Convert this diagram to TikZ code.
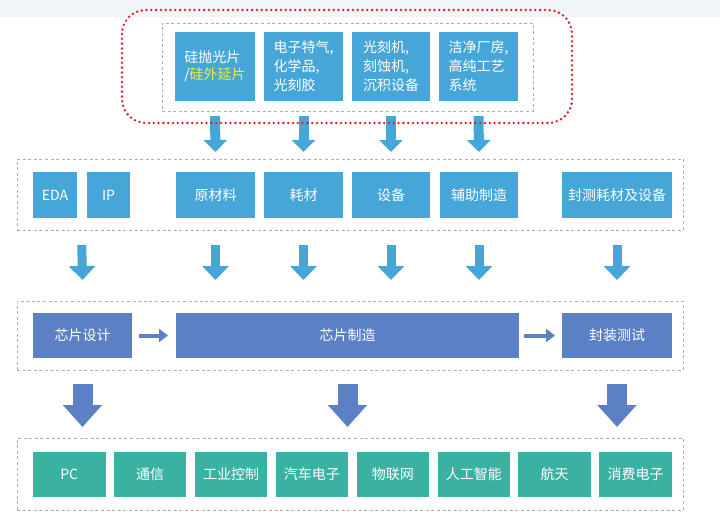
\documentclass[tikz,border=0pt]{standalone}
\usepackage{fontspec}
\setmainfont{Noto Sans CJK SC}
\usetikzlibrary{arrows.meta,fit,calc}
\definecolor{lb}{HTML}{46A6D7}
\definecolor{mb}{HTML}{5B80C3}
\definecolor{tl}{HTML}{3AB2A2}
\definecolor{ylw}{HTML}{F2EE3C}
\definecolor{redd}{HTML}{DE2A2E}
\definecolor{frm}{HTML}{A9B0B7}
\definecolor{frmb}{HTML}{96B6C6}
\definecolor{band}{HTML}{F1F4F8}
\newcommand\mybox[7]{\node[#1, minimum width={(#5-#3)*1pt}, minimum height={(#6-#4)*1pt}] (#2) at ({(#3+#5)/2},{(#4+#6)/2}) {#7};}
\begin{document}
\begin{tikzpicture}[x=1pt,y=-1pt,
  box/.style={inner sep=0pt, outer sep=0pt, text=white, font=\fontsize{14pt}{19pt}\selectfont},
  lbox/.style={box, fill=lb},
  mbox/.style={box, fill=mb},
  tbox/.style={box, fill=tl},
  frame/.style={draw=frm, line width=0.9pt, dash pattern=on 3pt off 2.6pt, inner sep=0pt},
  redframe/.style={draw=redd, line width=2.8pt, line cap=round, dash pattern=on 0pt off 4.8pt, rounded corners=24pt},
  larrow/.style={draw=lb, line width=10pt, -{Triangle[width=23pt,length=12pt]}},
  marrow/.style={draw=lb, line width=9pt, -{Triangle[width=26pt,length=14pt]}},
  barrow/.style={draw=mb, line width=20pt, -{Triangle[width=38pt,length=22pt]}},
  sarrow/.style={draw=mb, line width=4pt, -{Triangle[width=13pt,length=9pt]}}
]
\useasboundingbox (0,0) rectangle (720,523);
\fill[band] (0,0) rectangle (720,17);

% frames
\node[frame, draw=frmb, fit={(162,23)(533,111)}] (f1) {};
\node[frame, fit={(17,159)(683,230)}] (f2) {};
\node[frame, fit={(17,301)(683,370)}] (f3) {};
\node[frame, fit={(17,438)(683,510)}] (f4) {};

% top row
\mybox{lbox, align=left, font=\fontsize{14pt}{17pt}\selectfont}{t1}{175}{32}{255}{101}{硅抛光片\\/{\color{ylw}硅外延片}}
\mybox{lbox, align=left}{t2}{264}{32}{343}{101}{电子特气,\\化学品,\\光刻胶}
\mybox{lbox, align=left}{t3}{352}{32}{430}{101}{光刻机,\\刻蚀机,\\沉积设备}
\mybox{lbox, align=left}{t4}{439}{32}{518}{101}{洁净厂房,\\高纯工艺\\系统}

% second row
\mybox{lbox}{eda}{33}{172}{77}{218}{EDA}
\mybox{lbox}{ip}{87}{172}{130}{218}{IP}
\mybox{lbox}{m1}{176}{172}{255}{218}{原材料}
\mybox{lbox}{m2}{264}{172}{343}{218}{耗材}
\mybox{lbox}{m3}{352}{172}{430}{218}{设备}
\mybox{lbox}{m4}{440}{172}{518}{218}{辅助制造}
\mybox{lbox}{m5}{562}{172}{672}{218}{封测耗材及设备}

% third row
\mybox{mbox}{r1}{33}{313}{132}{358}{芯片设计}
\mybox{mbox}{r2}{176}{313}{519}{358}{芯片制造}
\mybox{mbox}{r3}{562}{313}{672}{358}{封装测试}

% bottom row
\mybox{tbox}{p1}{33}{452}{105.5}{497}{PC}
\mybox{tbox}{p2}{113.9}{452}{186.4}{497}{通信}
\mybox{tbox}{p3}{194.8}{452}{267.3}{497}{工业控制}
\mybox{tbox}{p4}{275.7}{452}{348.2}{497}{汽车电子}
\mybox{tbox}{p5}{356.6}{452}{429.1}{497}{物联网}
\mybox{tbox}{p6}{437.5}{452}{510}{497}{人工智能}
\mybox{tbox}{p7}{518.4}{452}{590.9}{497}{航天}
\mybox{tbox}{p8}{599.3}{452}{671.8}{497}{消费电子}

% top arrows
\draw[larrow] ($(t1.south)+(0,15)$) -- ($(m1.north)+(0,-20)$);
\draw[larrow] ($(t2.south)+(0,15)$) -- ($(m2.north)+(0,-20)$);
\draw[larrow] ($(t3.south)+(0,15)$) -- ($(m3.north)+(0,-20)$);
\draw[larrow] ($(t4.south)+(0,15)$) -- ($(m4.north)+(0,-20)$);

% red dotted frame (drawn over arrows)
\draw[redframe] (122,10) rectangle (572,123);

% second row arrows
\draw[marrow] ($(eda.south)!.5!(ip.south)+(0,27)$) -- ($(r1.north)+(0,-33)$);
\draw[marrow] ($(m1.south)+(0,27)$) -- ($(m1.south |- r2.north)+(0,-33)$);
\draw[marrow] ($(m2.south)+(0,27)$) -- ($(m2.south |- r2.north)+(0,-33)$);
\draw[marrow] ($(m3.south)+(0,27)$) -- ($(m3.south |- r2.north)+(0,-33)$);
\draw[marrow] ($(m4.south)+(0,27)$) -- ($(m4.south |- r2.north)+(0,-33)$);
\draw[marrow] ($(m5.south)+(0,27)$) -- ($(r3.north)+(0,-33)$);

% third row small arrows
\draw[sarrow] ($(r1.east)+(7,0)$) -- ($(r2.west)+(-8,0)$);
\draw[sarrow] ($(r2.east)+(5,0)$) -- ($(r3.west)+(-7,0)$);

% big arrows
\draw[barrow] ($(r1.south)+(0,26)$) -- ($(r1.south |- p1.north)+(0,-25)$);
\draw[barrow] ($(r2.south)+(0,26)$) -- ($(r2.south |- p1.north)+(0,-25)$);
\draw[barrow] ($(r3.south)+(0,26)$) -- ($(r3.south |- p1.north)+(0,-25)$);
\end{tikzpicture}
\end{document}
